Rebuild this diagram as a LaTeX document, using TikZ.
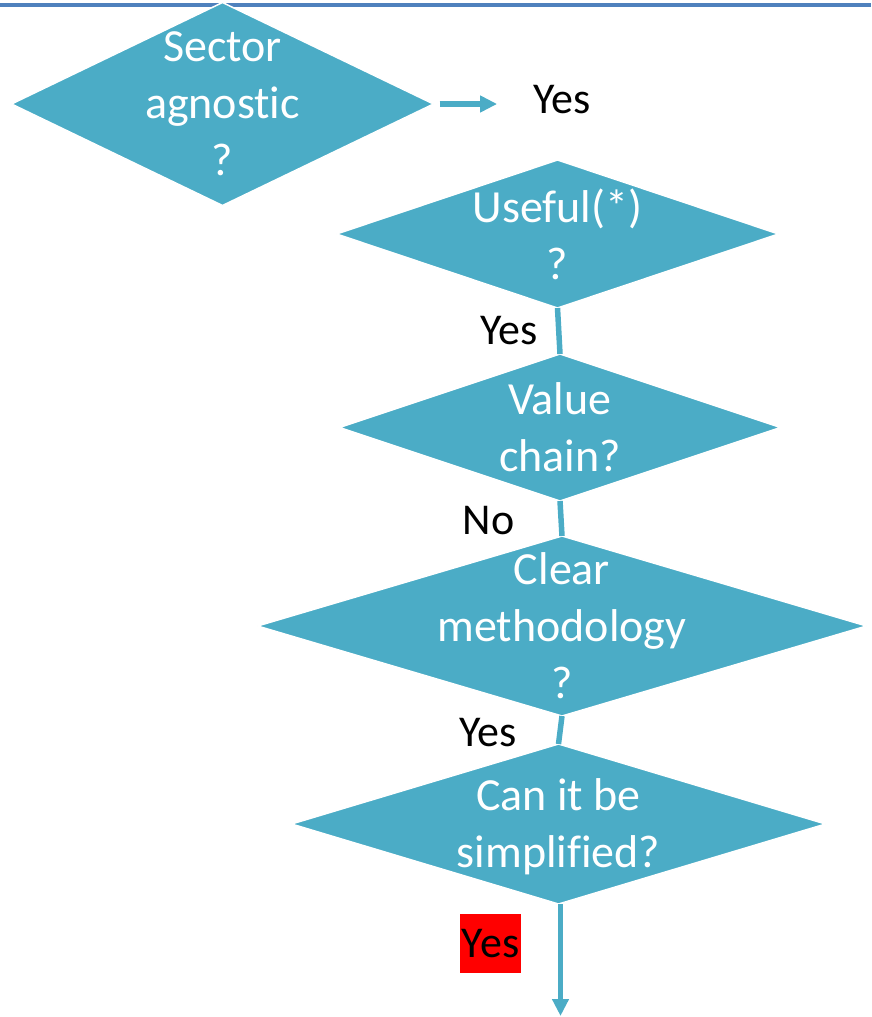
\documentclass[tikz,border=0pt]{standalone}
\usepackage{fontspec}
\setmainfont[RawFeature={-liga;-clig;-calt;-dlig}]{Carlito}
\usetikzlibrary{shapes.geometric, arrows.meta, positioning}
\definecolor{aqua}{HTML}{4BACC6}
\definecolor{headerblue}{HTML}{4F81BD}
\tikzstyle{decision} = [diamond, fill=aqua, draw=white, line width=1.5pt, inner sep=0pt, outer sep=0pt]
\tikzstyle{qtext} = [text=white, align=center, inner sep=0pt, font=\fontsize{46}{57}\selectfont]
\tikzstyle{answer} = [inner sep=0pt, font=\fontsize{44}{53}\selectfont]
\tikzstyle{redbox} = [answer, fill=red, inner xsep=1.5pt, text height=44pt, text depth=15pt]
\tikzstyle{link} = [draw=aqua, line width=5.5pt]
\tikzstyle{arrow} = [link, -{Triangle[length=17pt, width=16pt]}]

\begin{document}
\begin{tikzpicture}[x=1pt, y=1pt]
\useasboundingbox (0,0) rectangle (871,-1017);
% header rule
\draw [headerblue, line width=4.5pt] (0,-5) -- (871,-5);

%----------------------------------------------------------------------------
% Placement of decision nodes
\node (sector) [decision, minimum width=422pt, minimum height=203pt] at (222.5,-104) {};
\node (sectorText) [qtext] at (sector) {Sector\\agnostic\\?};
\node (yesTop) [answer, anchor=base] at (562,-113) {Yes};

\node (useful) [decision, minimum width=442pt, minimum height=148pt] at (557.5,-234) {};
\node (usefulText) [qtext] at (useful) {Useful(*)\\?};

\node (value) [decision, minimum width=441pt, minimum height=147pt, below=46pt of useful, xshift=2.5pt] {};
\node (valueText) [qtext] at (value) {Value\\chain?};

\node (clear) [decision, minimum width=609pt, minimum height=180pt, below=35pt of value, xshift=2pt] {};
\node (clearText) [qtext] at (clear) {Clear\\methodology\\?};

\node (can) [decision, minimum width=534pt, minimum height=160pt, below=28pt of clear, xshift=-3.5pt] {};
\node (canText) [qtext, yshift=-3pt] at (can) {Can it be\\simplified?};

\coordinate (bottomEnd) at ([xshift=2pt, yshift=-112pt]can.south);

%----------------------------------------------------------------------------
% Draw lines
\draw [arrow] ([xshift=6pt]sector.east) -- ([xshift=-36pt]sector.east -| yesTop.west);
\draw [link] (useful.south) -- node[answer, left=18.5pt] {Yes} (value.north);
\draw [link] (value.south) -- node[answer, left=44pt, yshift=-2pt] {No} (clear.north);
\draw [link] (clear.south) -- node[answer, left=41pt, yshift=-3pt] {Yes} (can.north);
\draw [arrow] ([xshift=2pt]can.south) -- node[redbox, pos=0.35, left=37pt] {Yes} (bottomEnd);

\end{tikzpicture}
\end{document}
